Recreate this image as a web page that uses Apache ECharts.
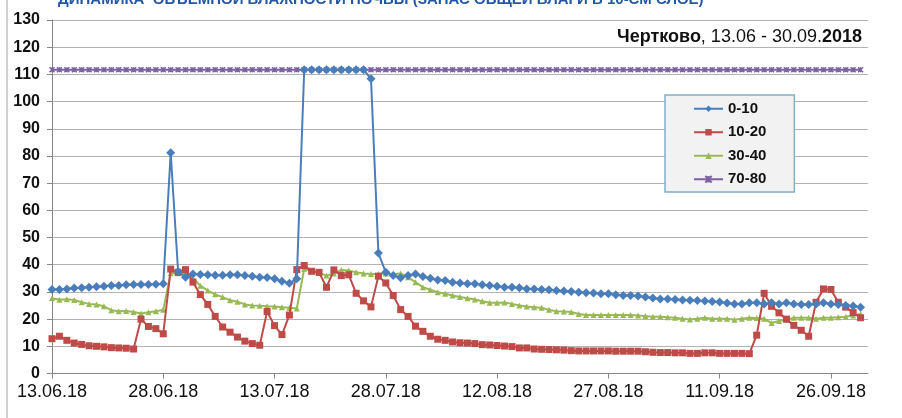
<!DOCTYPE html>
<html>
<head>
<meta charset="utf-8">
<script src="https://cdn.jsdelivr.net/npm/echarts@6/dist/echarts.min.js"></script>
<style>
  html, body { margin: 0; padding: 0; background: #fff; }
  #chart { width: 902px; height: 418px; }
</style>
</head>
<body>
<div id="chart"></div>
<script>
  // подписи оси X: каждые 15 дней, начиная с 13.06.18
  const tickLabels = ['13.06.18', '28.06.18', '13.07.18', '28.07.18', '12.08.18', '27.08.18', '11.09.18', '26.09.18'];
  const seriesNames = ['0-10', '10-20', '30-40', '70-80'];

  // 110 суток: 13.06 - 30.09
  const layer0_10 = [
    30.9, 30.9, 31.1, 31.4, 31.5, 31.7, 31.9, 32.1, 32.4, 32.4, 32.6, 32.7, 32.7, 32.7, 32.8, 33.0,
    81.2, 37.5, 35.4,
    36.6, 36.4, 36.3, 36.1, 36.1, 36.3, 36.3, 36.0, 35.8, 35.4, 35.3, 34.8, 33.9, 33.2, 34.8,
    111.7, 111.7, 111.7, 111.7, 111.7, 111.7, 111.7, 111.7, 111.7,
    108.4,
    44.3, 37.2, 36.0, 35.2, 36.0, 36.6, 35.7, 35.0, 34.4, 34.2, 33.6, 33.3, 33.0, 33.0, 32.6, 32.4, 32.1,
    31.7, 31.7, 31.5, 31.1, 31.1, 30.9, 30.8, 30.5, 30.3, 30.2, 29.9, 29.7, 29.6, 29.3, 29.3, 29.0, 28.7, 28.7, 28.5, 28.1,
    27.8, 27.4, 27.4, 27.2, 27.0, 26.9, 26.8, 26.7, 26.5, 26.3, 25.9, 25.6,
    25.6, 26.0, 26.0, 25.6, 26.0, 25.6, 26.0, 25.6, 25.4, 25.4, 25.6, 26.0, 25.6, 25.4, 25.0, 24.8, 24.4
  ];
  const layer10_20 = [
    12.8, 13.7, 12.2, 11.2, 10.7, 10.2, 10.0, 9.8, 9.5, 9.4, 9.3, 9.0, 20.0, 17.3, 16.5, 14.6,
    38.4, 37.2, 38.2,
    33.6, 29.0, 25.4, 21.0, 17.1, 15.2, 13.4, 11.9, 11.0, 10.4, 22.8, 17.6, 14.3, 21.5, 38.2,
    39.7, 37.6, 37.2, 31.7, 38.1,
    36.0, 36.3, 29.5, 26.7, 24.5, 35.8, 33.3, 28.7, 23.5, 21.0, 17.4, 15.5, 13.7, 12.6, 12.2, 11.6, 11.3, 11.2, 11.0, 10.6, 10.5, 10.3,
    10.1, 9.9, 9.4, 9.4, 9.0, 8.9, 8.8, 8.7, 8.6, 8.4, 8.3, 8.3, 8.3, 8.3, 8.3, 8.2, 8.2, 8.2, 8.2,
    8.0, 7.8, 7.7, 7.7, 7.6, 7.6, 7.4, 7.4, 7.6, 7.6, 7.4, 7.4, 7.4, 7.4, 7.3,
    14.1, 29.5, 24.7, 22.3, 20.0, 17.7, 15.9, 13.7, 26.2, 31.1, 30.9, 26.2, 24.4, 22.4, 20.5
  ];
  const layer30_40 = [
    27.7, 27.1, 27.3, 27.0, 26.2, 25.6, 25.4, 24.7, 23.3, 22.9, 23.0, 22.6, 22.1, 22.5, 22.9, 23.4,
    36.9, 36.9, 36.8,
    35.0, 32.3, 30.5, 29.1, 28.1, 26.9, 26.4, 25.4, 25.0, 24.9, 24.7, 24.6, 24.4, 24.2, 23.9,
    38.5, 37.6, 37.0, 36.0, 36.8,
    38.1, 37.9, 37.2, 36.8, 36.6, 36.6, 36.8, 36.6, 36.8, 35.4, 33.6, 31.7, 30.8, 29.9, 29.3, 28.7, 28.1, 27.7, 27.2, 26.6, 26.0, 26.0,
    26.1, 25.6, 25.0, 24.6, 24.4, 24.2, 23.4, 22.9, 22.8, 22.6, 21.9, 21.5, 21.5, 21.5, 21.5, 21.5, 21.5, 21.5, 21.3,
    21.1, 20.9, 20.9, 20.7, 20.5, 20.1, 19.9, 20.1, 20.5, 20.1, 20.1, 20.1, 19.8,
    20.1, 20.5, 20.4, 20.1, 18.6, 19.3, 19.8, 20.5, 20.5, 20.5, 20.1, 20.5, 20.5, 20.7, 20.9, 21.3, 21.9
  ];
  const layer70_80 = [
    111.7, 111.7, 111.7, 111.7, 111.7, 111.7, 111.7, 111.7, 111.7, 111.7, 111.7, 111.7, 111.7, 111.7, 111.7, 111.7,
    111.7, 111.7, 111.7, 111.7, 111.7, 111.7, 111.7, 111.7, 111.7, 111.7, 111.7, 111.7, 111.7, 111.7, 111.7, 111.7,
    111.7, 111.7, 111.7, 111.7, 111.7, 111.7, 111.7, 111.7, 111.7, 111.7, 111.7, 111.7, 111.7, 111.7, 111.7, 111.7,
    111.7, 111.7, 111.7, 111.7, 111.7, 111.7, 111.7, 111.7, 111.7, 111.7, 111.7, 111.7, 111.7, 111.7, 111.7, 111.7,
    111.7, 111.7, 111.7, 111.7, 111.7, 111.7, 111.7, 111.7, 111.7, 111.7, 111.7, 111.7, 111.7, 111.7, 111.7, 111.7,
    111.7, 111.7, 111.7, 111.7, 111.7, 111.7, 111.7, 111.7, 111.7, 111.7, 111.7, 111.7, 111.7, 111.7, 111.7, 111.7,
    111.7, 111.7, 111.7, 111.7, 111.7, 111.7, 111.7, 111.7, 111.7, 111.7, 111.7, 111.7, 111.7, 111.7
  ];

  const FONT = '"Liberation Sans", Arial, sans-serif';
  const colors = ['#4a7ebb', '#be4b48', '#98b954', '#7d60a0'];
  const symbols = ['diamond', 'rect', 'triangle', 'path://M0,0L10,10M10,0L0,10M5,0L5,10'];
  const symbolSizes = [9, 7, 6, 5];
  const tickValues = tickLabels.map((_, i) => i * 15);

  const chart = echarts.init(document.getElementById('chart'), null, { renderer: 'canvas' });

  function toPoints(arr) {
    return arr.map((v, i) => [i, v]);
  }

  const allData = [layer0_10, layer10_20, layer30_40, layer70_80];

  chart.setOption({
    animation: false,
    color: colors,
    grid: { left: 52, right: 34, top: 20, bottom: 44.5 },
    graphic: [
      {
        type: 'line', shape: { x1: 7, y1: 0, x2: 7, y2: 418 },
        style: { stroke: '#a6a6a6', lineWidth: 1 }
      },
      {
        type: 'text', left: 58, top: -8,
        style: {
          text: 'ДИНАМИКА  ОБЪЕМНОЙ ВЛАЖНОСТИ ПОЧВЫ (ЗАПАС ОБЩЕЙ ВЛАГИ В 10-СМ СЛОЕ)',
          font: 'bold 15px ' + FONT, fill: '#2458a6'
        }
      },
      {
        type: 'text', right: 40, top: 28,
        style: {
          text: '{b|Чертково}, 13.06 - 30.09.{b|2018}',
          font: '18px ' + FONT, fill: '#111',
          rich: { b: { fontWeight: 'bold', fontSize: 18, fontFamily: FONT, fill: '#111' } }
        }
      }
    ],
    legend: {
      orient: 'vertical',
      left: 665, top: 95,
      padding: [5, 28, 4, 28],
      itemGap: 6,
      itemWidth: 29, itemHeight: 8,
      backgroundColor: '#f2f2f2',
      borderColor: '#7fb0c4', borderWidth: 1.5,
      textStyle: { fontFamily: FONT, fontSize: 15, fontWeight: 'bold', color: '#111', lineHeight: 17.5 },
      data: seriesNames
    },
    xAxis: {
      type: 'value',
      min: 0, max: 110,
      splitLine: { show: false },
      axisLine: { lineStyle: { color: '#868686', width: 1 } },
      axisTick: { show: true, length: 5, customValues: tickValues, lineStyle: { color: '#868686' } },
      axisLabel: {
        customValues: tickValues,
        formatter: v => tickLabels[v / 15] || '',
        fontFamily: FONT, fontSize: 18, color: '#111', margin: 10
      }
    },
    yAxis: {
      type: 'value',
      min: 0, max: 130, interval: 10,
      axisLine: { show: true, lineStyle: { color: '#868686', width: 1 } },
      axisTick: { show: true, length: 5, lineStyle: { color: '#868686' } },
      splitLine: { lineStyle: { color: '#b3b3b3', width: 1 } },
      axisLabel: { fontFamily: FONT, fontSize: 16, fontWeight: 'bold', color: '#111', margin: 12 }
    },
    series: seriesNames.map((name, k) => ({
      name: name,
      type: 'line',
      data: toPoints(allData[k]),
      symbol: symbols[k],
      symbolSize: symbolSizes[k],
      showAllSymbol: true,
      z: k === 0 ? 5 : 4 - k,
      lineStyle: { width: 2, color: colors[k] },
      itemStyle: k === 3
        ? { color: colors[k], borderColor: colors[k], borderWidth: 1.5 }
        : { color: colors[k] }
    }))
  });
</script>
</body>
</html>
